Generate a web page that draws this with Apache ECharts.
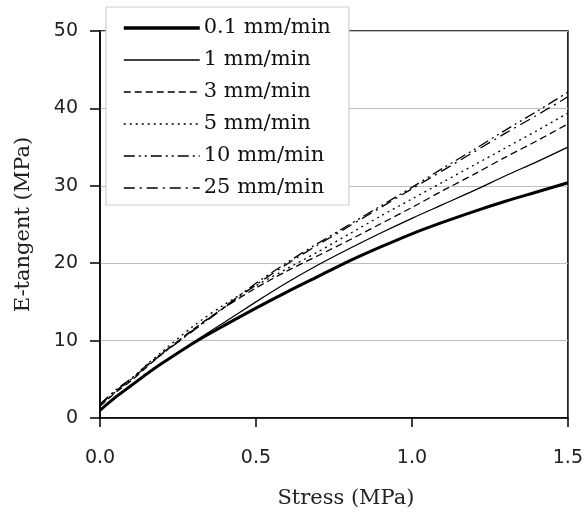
<!DOCTYPE html>
<html><head><meta charset="utf-8">
<script src="https://cdn.jsdelivr.net/npm/echarts@6/dist/echarts.min.js"></script>
<style>html,body{margin:0;padding:0;background:#fff}#c{width:586px;height:524px}</style>
</head><body><div id="c"></div>
<script>
const stress = [0, 0.05, 0.1, 0.15, 0.2, 0.3, 0.4, 0.5, 0.6, 0.7, 0.8, 0.9, 1.0, 1.1, 1.2, 1.3, 1.4, 1.5];
const rate01 = [1.0, 2.7, 4.2, 5.7, 7.1, 9.7, 12.0, 14.2, 16.3, 18.3, 20.3, 22.1, 23.8, 25.3, 26.7, 28.0, 29.2, 30.4];
const rate1  = [1.0, 2.6, 4.1, 5.6, 7.1, 9.8, 12.4, 15.0, 17.5, 19.8, 21.9, 23.9, 25.8, 27.6, 29.4, 31.3, 33.1, 35.0];
const rate3  = [1.5, 3.3, 4.8, 6.6, 8.3, 11.5, 14.3, 16.8, 19.0, 21.0, 23.0, 25.1, 27.2, 29.4, 31.5, 33.7, 35.8, 38.0];
const rate5  = [1.6, 3.4, 5.0, 6.9, 8.6, 11.9, 14.7, 17.1, 19.3, 21.5, 23.8, 26.1, 28.3, 30.5, 32.7, 34.9, 37.1, 39.4];
const rate10 = [1.8, 3.6, 5.1, 6.8, 8.4, 11.4, 14.4, 17.4, 20.1, 22.6, 25.0, 27.4, 29.8, 32.3, 34.7, 37.2, 39.6, 42.1];
const rate25 = [1.7, 3.5, 5.0, 6.7, 8.3, 11.3, 14.3, 17.2, 19.9, 22.4, 24.8, 27.2, 29.6, 32.0, 34.4, 36.8, 39.1, 41.5];
const seriesNames = ['0.1 mm/min', '1 mm/min', '3 mm/min', '5 mm/min', '10 mm/min', '25 mm/min'];
const seriesData = [rate01, rate1, rate3, rate5, rate10, rate25];

const styles = [
  {width: 3, type: 'solid'},
  {width: 1.3, type: 'solid'},
  {width: 1.3, type: [7, 4]},
  {width: 1.3, type: [2, 4]},
  {width: 1.3, type: [11, 4, 2, 4, 2, 4]},
  {width: 1.3, type: [11, 5, 2, 5]}
];
const serif = 'DejaVu Serif';
const sans = 'DejaVu Sans';
const chart = echarts.init(document.getElementById('c'));
chart.setOption({
  animation: false,
  grid: {left: 100, right: 16, top: 31, bottom: 106, show: true, borderColor: '#000', borderWidth: 1.5, backgroundColor: 'transparent'},
  legend: {
    orient: 'vertical', left: 106, top: 7,
    backgroundColor: '#fff', borderColor: '#d0d0d0', borderWidth: 1.2,
    padding: [10, 18, 6, 16], itemGap: 10, itemWidth: 76, itemHeight: 14,
    itemStyle: {opacity: 0},
    textStyle: {fontFamily: serif, fontSize: 21, lineHeight: 22, color: '#111', padding: [0, 0, 0, -1]},
    data: seriesNames.map((n, i) => ({name: n, lineStyle: {color: '#000', width: styles[i].width === 3 ? 3.5 : 1.6, type: styles[i].type}}))
  },
  xAxis: {
    type: 'value', min: 0, max: 1.5, interval: 0.5,
    name: 'Stress (MPa)', nameLocation: 'middle', nameGap: 70,
    nameTextStyle: {fontFamily: serif, fontSize: 21, color: '#222', padding: [0, 0, 0, 24]},
    axisLine: {show: true, lineStyle: {color: '#000', width: 1.5}},
    axisTick: {show: true, length: 9, lineStyle: {color: '#000', width: 1.5}},
    axisLabel: {fontFamily: sans, fontSize: 19, color: '#222', margin: 31, formatter: v => v.toFixed(1)},
    splitLine: {show: false}
  },
  yAxis: {
    type: 'value', min: 0, max: 50, interval: 10,
    name: 'E-tangent (MPa)', nameLocation: 'middle', nameGap: 66,
    nameTextStyle: {fontFamily: serif, fontSize: 21, color: '#222'},
    axisLine: {show: true, lineStyle: {color: '#000', width: 1.5}},
    axisTick: {show: true, length: 10, lineStyle: {color: '#000', width: 1.5}},
    axisLabel: {fontFamily: sans, fontSize: 19, color: '#222', margin: 22},
    splitLine: {show: true, lineStyle: {color: '#bdbdbd', width: 1}}
  },
  series: seriesNames.map((n, i) => ({
    name: n, type: 'line', smooth: 0.3, symbol: 'none',
    data: stress.map((x, j) => [x, seriesData[i][j]]),
    lineStyle: {color: '#000', width: styles[i].width, type: styles[i].type},
    itemStyle: {color: '#000'}
  }))
});
</script></body></html>
